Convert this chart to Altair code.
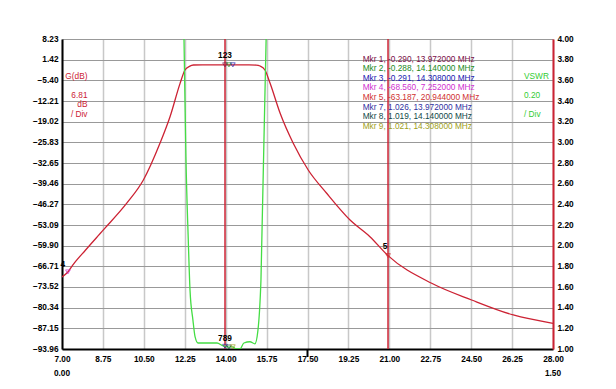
import altair as alt
import pandas as pd

# ---------------- data ----------------
x_ticks = [7.00, 8.75, 10.50, 12.25, 14.00, 15.75, 17.50, 19.25, 21.00, 22.75, 24.50, 26.25, 28.00]
gain_ticks = [8.23, 1.42, -5.40, -12.21, -19.02, -25.83, -32.65, -39.46, -46.27,
              -53.09, -59.90, -66.71, -73.52, -80.34, -87.15, -93.96]
vswr_ticks = [1.00, 1.20, 1.40, 1.60, 1.80, 2.00, 2.20, 2.40, 2.60, 2.80,
              3.00, 3.20, 3.40, 3.60, 3.80, 4.00]

gain_freq = [7.00, 7.252, 7.50, 8.00, 8.77, 9.77, 10.48, 11.19, 11.62, 12.05, 12.26,
             12.45, 12.62, 13.00, 13.972, 14.140, 14.308, 15.00, 15.30, 15.47, 15.68,
             15.90, 16.33, 16.89, 17.53, 18.32, 19.32, 20.17, 20.944, 22.81, 24.52,
             26.30, 28.00]
gain_db = [-70.2, -68.56, -65.9, -61.4, -54.7, -45.9, -38.25, -26.15, -17.4, -6.4, -2.0,
           -0.8, -0.34, -0.29, -0.290, -0.288, -0.291, -0.30, -0.38, -0.67, -1.99,
           -6.37, -16.26, -26.15, -34.95, -42.63, -51.44, -56.94, -63.187, -72.30, -77.81,
           -82.75, -85.49]

vswr_freq = [12.19, 12.218, 12.30, 12.40, 12.475, 12.60, 12.69, 12.82, 13.20, 13.63,
             13.89, 13.972, 14.140, 14.308, 14.44, 14.61, 14.78, 15.04, 15.25, 15.38,
             15.51, 15.73, 15.76]
vswr_val = [4.4, 4.0, 2.86, 2.06, 1.57, 1.28, 1.12, 1.058, 1.058, 1.058,
            1.03, 1.026, 1.019, 1.021, 1.0, 1.0, 1.058, 1.07, 1.05, 1.18,
            1.67, 4.0, 4.4]

mkr_gain_id = ["1", "2", "3", "4", "5"]
mkr_gain_freq = [13.972, 14.140, 14.308, 7.252, 20.944]
mkr_gain_val = [-0.290, -0.288, -0.291, -68.560, -63.187]
mkr_gain_color = ["#7a1048", "#1a8a1a", "#2020b0", "#d030d0", "#d03030"]

mkr_vswr_id = ["7", "8", "9"]
mkr_vswr_freq = [13.972, 14.140, 14.308]
mkr_vswr_val = [1.026, 1.019, 1.021]
mkr_vswr_color = ["#3030a0", "#104848", "#a0a020"]

active_mkr_freq = [13.972, 20.944]
center_freq = [17.5]
span_freq = [7.0, 28.0]
span_text = ["0.00", "1.50"]

RED = "#cc2233"
GREEN = "#44dd44"
FONT = "Liberation Sans"

gain_df = pd.DataFrame({"freq": gain_freq, "db": gain_db})
vswr_df = pd.DataFrame({"freq": vswr_freq, "vswr": vswr_val})
mg_df = pd.DataFrame({"id": mkr_gain_id, "freq": mkr_gain_freq, "db": mkr_gain_val, "color": mkr_gain_color})
mv_df = pd.DataFrame({"id": mkr_vswr_id, "freq": mkr_vswr_freq, "vswr": mkr_vswr_val, "color": mkr_vswr_color})

X = alt.X("freq:Q", scale=alt.Scale(domain=[7, 28], nice=False, zero=False),
          axis=alt.Axis(values=x_ticks, format=".2f", title=None, grid=True,
                        gridColor="#c8c8c8", gridWidth=1.5, ticks=False, labelPadding=5,
                        labelFlush=False, labelOverlap=False, domainColor="black",
                        domainWidth=2, labelFont=FONT, labelFontSize=8.3,
                        labelFontWeight="bold", labelColor="black"))

YG = alt.Y("db:Q", scale=alt.Scale(domain=[-93.96, 8.23], nice=False, zero=False),
           axis=alt.Axis(values=gain_ticks, format=".2f", title=None, grid=True,
                         gridColor="#999999", gridWidth=1, ticks=False, labelPadding=4,
                         labelFlush=False, labelOverlap=False, domainColor="black",
                         domainWidth=2, labelFont=FONT, labelFontSize=8.3,
                         labelFontWeight="bold", labelColor="black", orient="left"))

YV = alt.Y("vswr:Q", scale=alt.Scale(domain=[1, 4], nice=False, zero=False),
           axis=alt.Axis(values=vswr_ticks, format=".2f", title=None, grid=False,
                         ticks=False, labelPadding=4, labelFlush=False, labelOverlap=False,
                         domainColor=RED, domainWidth=2, labelFont=FONT, labelFontSize=8.3,
                         labelFontWeight="bold", labelColor="black", orient="right"))

# ---- gain group ----
gain_line = alt.Chart(gain_df).mark_line(color=RED, strokeWidth=1.3, interpolate="monotone",
                                         clip=True).encode(x=X, y=YG)

act_rules = alt.Chart(pd.DataFrame({"freq": active_mkr_freq})).mark_rule(
    color=RED, strokeWidth=1.5).encode(x=X, y=alt.value(0), y2=alt.value(310))

center_tick = alt.Chart(pd.DataFrame({"freq": center_freq})).mark_rule(
    color="black", strokeWidth=2).encode(x=X, y=alt.value(311), y2=alt.value(318))

span_labels = alt.Chart(pd.DataFrame({"freq": span_freq, "t": span_text})).mark_text(
    font=FONT, fontSize=8.3, fontWeight="bold", color="black", baseline="middle").encode(
    x=X, y=alt.value(334.5), text="t:N")

gain_mk = alt.Chart(mg_df).mark_point(shape="triangle-down", size=22, filled=False,
                                      strokeWidth=1).encode(
    x=X, y=YG, color=alt.Color("color:N", scale=None))

def gl(idx, txt, dx, dy):
    return alt.Chart(pd.DataFrame({"freq": [mkr_gain_freq[idx]], "db": [mkr_gain_val[idx]]})).mark_text(
        text=txt, font=FONT, fontSize=8.3, fontWeight="bold", color="black",
        dx=dx, dy=dy).encode(x=X, y=YG)

gain_group = alt.layer(gain_line, act_rules, center_tick, span_labels, gain_mk,
                       gl(0, "".join(mkr_gain_id[:3]), 0, -8.5),
                       gl(3, mkr_gain_id[3], -5, -6.5),
                       gl(4, mkr_gain_id[4], -3, -8.5))

# ---- vswr group ----
vswr_line = alt.Chart(vswr_df).mark_line(color=GREEN, strokeWidth=1.3, interpolate="monotone",
                                         clip=True).encode(x=X, y=YV)
vswr_mk = alt.Chart(mv_df).mark_point(shape="triangle-down", size=22, filled=False,
                                      strokeWidth=1).encode(
    x=X, y=YV, color=alt.Color("color:N", scale=None))
vswr_lbl = alt.Chart(pd.DataFrame({"freq": [mkr_vswr_freq[0]], "vswr": [mkr_vswr_val[0]]})).mark_text(
    text="".join(mkr_vswr_id), font=FONT, fontSize=8.3, fontWeight="bold", color="black",
    dy=-7).encode(x=X, y=YV)
vswr_group = alt.layer(vswr_line, vswr_mk, vswr_lbl)

# ---- annotations ----
one = pd.DataFrame({"k": [0]})

def note(txt, px, py, color, align, weight="normal", size=8.3):
    return alt.Chart(one).mark_text(text=txt, font=FONT, fontSize=size, color=color,
                                    align=align, baseline="middle", fontWeight=weight).encode(
        x=alt.value(px), y=alt.value(py))

notes = [
    note("G(dB)", 25.5, 38, RED, "right"),
    note("6.81", 25.5, 57, RED, "right"),
    note("dB", 25.5, 65.5, RED, "right"),
    note("/ Div", 25.5, 76, RED, "right"),
    note("VSWR", 462, 37.5, "#33cc33", "left"),
    note("0.20", 462, 56.5, "#33cc33", "left"),
    note("/ Div", 462, 76, "#33cc33", "left"),
]

leg_ids = mkr_gain_id + mkr_vswr_id
leg_vals = mkr_gain_val + mkr_vswr_val
leg_freqs = mkr_gain_freq + mkr_vswr_freq
leg_cols = mkr_gain_color + mkr_vswr_color
for i, (mid, v, f, c) in enumerate(zip(leg_ids, leg_vals, leg_freqs, leg_cols)):
    notes.append(note(f"Mkr {mid}, {v:.3f}, {f:.6f} MHz", 300.7, 20.5 + i * 9.6, c, "left"))

chart = alt.layer(gain_group, vswr_group, *notes).resolve_scale(y="independent").properties(
    width=491, height=310,
    autosize=alt.AutoSizeParams(type="none"),
    padding={"left": 54, "top": 31, "right": 55, "bottom": 32},
).configure_view(stroke="black", strokeWidth=2).configure(background="white")

chart.save("out.html", embed_options={"renderer": "svg", "actions": False})
